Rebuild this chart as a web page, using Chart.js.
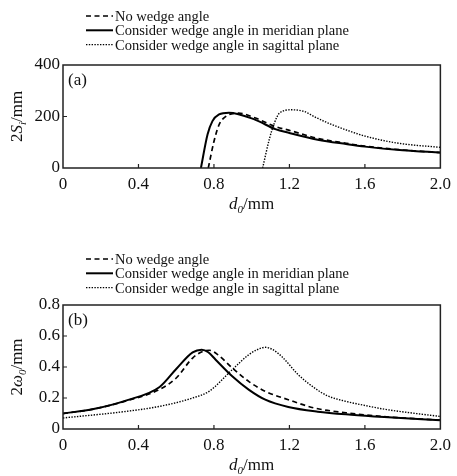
<!DOCTYPE html>
<html>
<head>
<meta charset="utf-8">
<script src="https://cdn.jsdelivr.net/npm/chart.js@4.4.0/dist/chart.umd.min.js"></script>
<style>
  body { margin: 0; background: #fff; width: 457px; height: 476px; overflow: hidden; position: relative; }
  canvas { position: absolute; left: 0; }
</style>
</head>
<body>
<canvas id="chartA" width="457" height="238" style="top:0"></canvas>
<canvas id="chartB" width="457" height="238" style="top:238px"></canvas>
<script>
// tick labels shared by both panels
const xTicks = [0, 0.4, 0.8, 1.2, 1.6, 2.0];

const legendLabels = ["No wedge angle", "Consider wedge angle in meridian plane", "Consider wedge angle in sagittal plane"];

// panel (a): 2S_i / mm against d0 / mm
const aNoWedgeX = [0.77, 0.80, 0.827, 0.862, 0.93, 1.02, 1.125, 1.2, 1.35, 1.5, 1.6, 1.8, 2.0];
const aNoWedgeY = [0, 103, 168, 200, 213, 194, 161, 146, 115, 96, 85, 70, 60];
const aMeridianX = [0.731, 0.766, 0.792, 0.827, 0.879, 1.02, 1.125, 1.2, 1.35, 1.5, 1.6, 1.8, 2.0];
const aMeridianY = [0, 130, 182, 208, 215, 187, 151, 136, 110, 93, 83, 69, 60];
const aSagittalX = [1.058, 1.095, 1.12, 1.147, 1.21, 1.28, 1.33, 1.42, 1.5, 1.6, 1.77, 2.0];
const aSagittalY = [0, 116, 174, 213, 226, 219, 200, 170, 148, 124, 97, 80];

// panel (b): 2w0 / mm against d0 / mm
const bNoWedgeX = [0, 0.16, 0.34, 0.51, 0.6, 0.687, 0.74, 0.775, 0.82, 0.897, 0.984, 1.072, 1.194, 1.334, 1.5, 1.7, 2.0];
const bNoWedgeY = [0.10, 0.128, 0.183, 0.254, 0.329, 0.458, 0.50, 0.508, 0.48, 0.394, 0.307, 0.243, 0.189, 0.135, 0.105, 0.08, 0.057];
const bMeridianX = [0, 0.162, 0.337, 0.512, 0.6, 0.687, 0.735, 0.77, 0.809, 0.897, 0.984, 1.072, 1.194, 1.35, 1.527, 1.702, 2.0];
const bMeridianY = [0.10, 0.129, 0.185, 0.271, 0.387, 0.494, 0.512, 0.495, 0.447, 0.34, 0.254, 0.189, 0.142, 0.112, 0.092, 0.077, 0.056];
const bSagittalX = [0, 0.337, 0.512, 0.687, 0.774, 0.897, 0.984, 1.03, 1.072, 1.11, 1.159, 1.247, 1.334, 1.4, 1.5, 1.6, 1.702, 1.877, 2.0];
const bSagittalY = [0.071, 0.114, 0.146, 0.2, 0.243, 0.383, 0.479, 0.512, 0.527, 0.513, 0.468, 0.35, 0.264, 0.215, 0.178, 0.152, 0.128, 0.099, 0.081];

const serif = '"Liberation Serif", "DejaVu Serif", serif';

function punkty(xs, ys) {
    return xs.map(function (x, i) { return { x: x, y: ys[i] }; });
}

function seria(label, xs, ys, dash, width) {
    return {
        label: label,
        data: punkty(xs, ys),
        borderColor: '#000',
        borderWidth: width,
        borderDash: dash,
        pointRadius: 0,
        fill: false,
        cubicInterpolationMode: 'monotone'
    };
}

function fontFor(p, size) {
    return (p.it ? 'italic ' : '') + (p.sub ? Math.round(size * 0.65) : size) + 'px ' + serif;
}

// mixed italic / subscript text, centred on x
function drawRich(ctx, parts, x, y, size) {
    var w = 0;
    parts.forEach(function (p) { ctx.font = fontFor(p, size); w += ctx.measureText(p.t).width; });
    var cx = x - w / 2;
    parts.forEach(function (p) {
        ctx.font = fontFor(p, size);
        ctx.fillText(p.t, cx, p.sub ? y + size * 0.25 : y);
        cx += ctx.measureText(p.t).width;
    });
}

// frame, inward ticks, axis titles, panel tag and legend
function dekoracje(cfg) {
    return {
        id: 'dekoracje',
        afterDraw: function (chart) {
            var ctx = chart.ctx;
            var a = chart.chartArea;
            var xs = chart.scales.x, ys = chart.scales.y;
            ctx.save();
            ctx.strokeStyle = '#222';
            ctx.fillStyle = '#111';
            ctx.lineWidth = 1.5;
            ctx.setLineDash([]);
            ctx.strokeRect(a.left, a.top, a.right - a.left, a.bottom - a.top);
            ctx.lineWidth = 1.2;
            ctx.beginPath();
            xs.ticks.forEach(function (t) {
                var px = xs.getPixelForValue(t.value);
                if (px > a.left + 1 && px < a.right - 1) { ctx.moveTo(px, a.bottom); ctx.lineTo(px, a.bottom - 4); }
            });
            ys.ticks.forEach(function (t) {
                var py = ys.getPixelForValue(t.value);
                if (py > a.top + 1 && py < a.bottom - 1) { ctx.moveTo(a.left, py); ctx.lineTo(a.left + 4, py); }
            });
            ctx.stroke();

            ctx.textBaseline = 'alphabetic';
            ctx.textAlign = 'left';
            drawRich(ctx, [{ t: 'd', it: 1 }, { t: '0', it: 1, sub: 1 }, { t: '/mm' }], (a.left + a.right) / 2, cfg.xTitleY, 17);
            ctx.save();
            ctx.translate(22, (a.top + a.bottom) / 2);
            ctx.rotate(-Math.PI / 2);
            drawRich(ctx, cfg.yTitle, 0, 0, 17);
            ctx.restore();

            ctx.font = '17px ' + serif;
            ctx.fillText(cfg.tag, a.left + 5, a.top + 20);

            ctx.font = '14.5px ' + serif;
            ctx.strokeStyle = '#000';
            chart.data.datasets.forEach(function (ds, i) {
                var by = cfg.legendTop + i * 14.3;
                ctx.beginPath();
                ctx.lineWidth = ds.borderWidth;
                ctx.setLineDash(ds.borderDash);
                ctx.moveTo(86, by - 5);
                ctx.lineTo(113, by - 5);
                ctx.stroke();
                ctx.setLineDash([]);
                ctx.fillText(ds.label, 115, by);
            });
            ctx.restore();
        }
    };
}

function opcje(yMax, yStep, padTop, xHeight) {
    return {
        responsive: false,
        animation: false,
        layout: { padding: { top: padTop, right: 13, left: 0, bottom: 0 } },
        plugins: { legend: { display: false }, tooltip: { enabled: false } },
        scales: {
            x: {
                type: 'linear', min: 0, max: 2.0,
                afterBuildTicks: function (s) { s.ticks = xTicks.map(function (v) { return { value: v }; }); },
                afterFit: function (s) { s.height = xHeight; },
                border: { display: false },
                grid: { display: false, drawTicks: false },
                ticks: {
                    padding: 6, color: '#111', maxRotation: 0,
                    font: { family: serif, size: 17 },
                    callback: function (v) { return v === 0 ? '0' : v.toFixed(1); }
                }
            },
            y: {
                min: 0, max: yMax,
                afterFit: function (s) { s.width = 63; },
                border: { display: false },
                grid: { display: false, drawTicks: false },
                ticks: {
                    stepSize: yStep, padding: 3, color: '#111',
                    font: { family: serif, size: 17 }
                }
            }
        }
    };
}

new Chart(document.getElementById('chartA'), {
    type: 'line',
    data: {
        datasets: [
            seria(legendLabels[0], aNoWedgeX, aNoWedgeY, [5, 3.5], 1.7),
            seria(legendLabels[1], aMeridianX, aMeridianY, [], 2),
            seria(legendLabels[2], aSagittalX, aSagittalY, [1.4, 1.4], 1.4)
        ]
    },
    options: opcje(400, 200, 65, 70),
    plugins: [dekoracje({
        yTitle: [{ t: '2' }, { t: 'S', it: 1 }, { t: 'i', it: 1, sub: 1 }, { t: '/mm' }],
        xTitleY: 209, tag: '(a)', legendTop: 21
    })]
});

new Chart(document.getElementById('chartB'), {
    type: 'line',
    data: {
        datasets: [
            seria(legendLabels[0], bNoWedgeX, bNoWedgeY, [5, 3.5], 1.7),
            seria(legendLabels[1], bMeridianX, bMeridianY, [], 2),
            seria(legendLabels[2], bSagittalX, bSagittalY, [1.4, 1.4], 1.4)
        ]
    },
    options: opcje(0.8, 0.2, 67, 47),
    plugins: [dekoracje({
        yTitle: [{ t: '2' }, { t: 'ω', it: 1 }, { t: '0', it: 1, sub: 1 }, { t: '/mm' }],
        xTitleY: 232, tag: '(b)', legendTop: 26
    })]
});
</script>
</body>
</html>
